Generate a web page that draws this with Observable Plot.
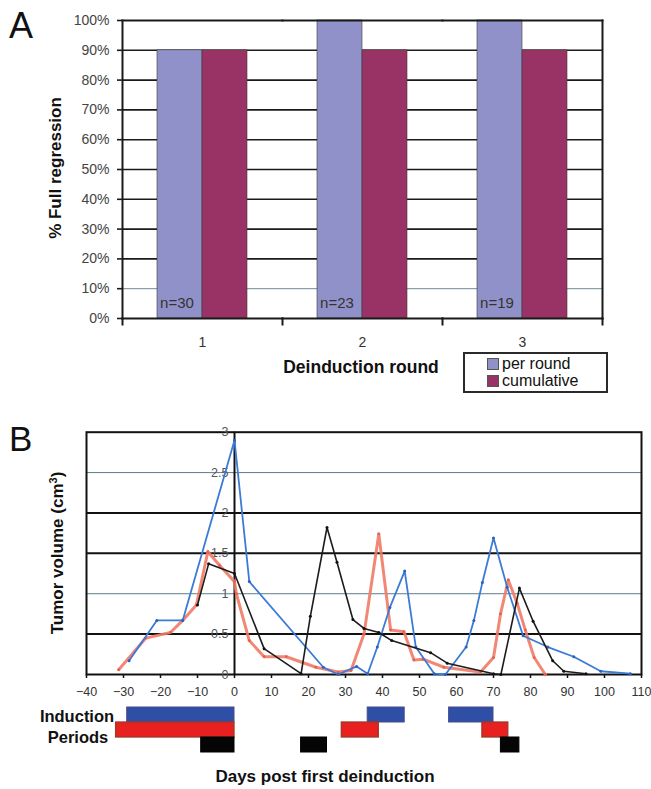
<!DOCTYPE html>
<html><head><meta charset="utf-8">
<script src="https://cdn.jsdelivr.net/npm/d3@7"></script>
<script src="https://cdn.jsdelivr.net/npm/@observablehq/plot@0.6"></script>
<style>
body{margin:0;background:#fff;font-family:"Liberation Sans",Arial,sans-serif;}
#root{position:relative;width:651px;height:789px;overflow:hidden;background:#fff;}
#root svg{position:absolute;left:0;}
.t{position:absolute;line-height:1;white-space:nowrap;color:#111;}
.b{font-weight:bold;}
.rot{transform:translate(-50%,-50%) rotate(-90deg);}
.ctr{transform:translate(-50%,-50%);}
</style></head><body><div id="root"></div>
<script>
// ---------- Panel A data ----------
const rounds = ["1","2","3"];
const seriesA = ["per round","cumulative"];
const perRound = [90,100,100];
const cumulative = [90,90,90];
const nLabels = ["n=30","n=23","n=19"];
const pctTicks = [0,10,20,30,40,50,60,70,80,90,100];
const pctGridDark = [20,30,40,50,60,70,80,90];
const pctGridLight = [10];

// ---------- Panel B data ----------
const blueDays = [-28.5,-21,-14,0,4,24,28,33,36,38.6,42,46,49,54,57,62.6,64.7,67,70,73.7,78,84.7,91.7,99,107];
const blueVol  = [0.17,0.67,0.67,2.9,1.15,0.09,0,0.1,0.01,0.34,0.83,1.28,0.34,0.01,0,0.34,0.67,1.14,1.69,1.08,0.48,0.34,0.22,0.04,0.01];
const blackDays = [-10,-7,0,8,18,20.5,25,27.7,32,35,39,42.5,53,57.5,70,72,77,80.7,86,89,95];
const blackVol  = [0.86,1.37,1.25,0.32,0.01,0.72,1.82,1.39,0.68,0.57,0.52,0.42,0.27,0.14,0.01,0,1.07,0.66,0.17,0.04,0.01];
const redDays = [-31.3,-24,-17.3,-14,-10.3,-7.2,-4,0,0.5,4,8,14,22,28,31.5,35,39,42.2,45.8,48.5,51,56.6,66.5,70,71.9,74,76.4,78.6,81,84];
const redVol  = [0.06,0.45,0.52,0.67,0.86,1.52,1.35,1.15,1.0,0.42,0.22,0.22,0.09,0.03,0.05,0.5,1.74,0.55,0.53,0.18,0.19,0.09,0.03,0.21,0.75,1.17,0.88,0.55,0.21,0];
const xTicksB = [-40,-30,-20,-10,0,10,20,30,40,50,60,70,80,90,100,110];
const yTicksB = [0,0.5,1,1.5,2,2.5,3];
const yGridDark = [0.5,1.5,2];
const yGridLight = [1,2.5];
const yAxisAt = 0;

// Induction periods (start, end days) per mouse
const periodRows = ["mouse A","mouse B","mouse C"];
const periodsA = [[-29,0],[36,46],[58,70]];
const periodsB = [[-32,0],[29,39],[67,74]];
const periodsC = [[-9,0],[18,25],[72,77]];

const font = '"Liberation Sans", Arial, sans-serif';
const root = document.getElementById("root");

// ---------- Panel A ----------
const barsA = rounds.flatMap((r,i)=>[
  {round:r, series:"per round", value:perRound[i]},
  {round:r, series:"cumulative", value:cumulative[i]}
]);
const nData = rounds.map((r,i)=>({round:r, series:"per round", label:nLabels[i]}));
const frameHA = 298;
const plotA = Plot.plot({
  width:651, height:400, marginLeft:121, marginRight:49, marginTop:20, marginBottom:82,
  fx:{domain:rounds, padding:0, label:null},
  x:{domain:seriesA, paddingInner:0, paddingOuter:0.745, axis:null},
  y:{domain:[0,100], label:null},
  color:{domain:seriesA, range:["#9191c9","#993366"]},
  style:{fontFamily:font, fontSize:"14px", color:"#222", background:"transparent", overflow:"visible"},
  marks:[
    Plot.ruleY(pctGridLight, {y:d=>d, stroke:"#6f8a94", strokeWidth:1}),
    Plot.ruleY(pctGridDark, {y:d=>d, stroke:"#1a1a1a", strokeWidth:1.6}),
    Plot.barY(barsA, {fx:"round", x:"series", y:"value", fill:"series", stroke:"#3a3a3a", strokeWidth:0.6}),
    Plot.text(nData, {fx:"round", x:"series", y:d=>0, text:"label", dy:-15, dx:-3, fontSize:15, fill:"#333"}),
    Plot.frame({anchor:"top", stroke:"#1a1a1a", strokeWidth:1.8}),
    Plot.frame({anchor:"bottom", stroke:"#1a1a1a", strokeWidth:2}),
    Plot.frame({anchor:"left", facetAnchor:"left", stroke:"#1a1a1a", strokeWidth:2}),
    Plot.frame({anchor:"right", facetAnchor:"right", stroke:"#1a1a1a", strokeWidth:2}),
    Plot.frame({anchor:"left", insetTop:frameHA, insetBottom:-6, stroke:"#1a1a1a", strokeWidth:2}),
    Plot.frame({anchor:"right", facetAnchor:"right", insetTop:frameHA, insetBottom:-6, stroke:"#1a1a1a", strokeWidth:2}),
    Plot.axisY(pctTicks, {tickSize:5, tickPadding:8, tickFormat:d=>d+"%", fontSize:14, fill:"#444", stroke:"#1a1a1a", strokeWidth:1.6}),
    Plot.axisFx({anchor:"bottom", tickSize:0, tickPadding:19, fontSize:14, fill:"#333", label:null})
  ]
});
plotA.style.top = "0px";
root.appendChild(plotA);

// ---------- Panel B ----------
const mk = (days, vols) => days.map((d,i)=>({day:d, vol:vols[i]}));
const red = mk(redDays, redVol), blue = mk(blueDays, blueVol), black = mk(blackDays, blackVol);
const plotB = Plot.plot({
  width:651, height:300, marginLeft:86, marginRight:10, marginTop:31.7, marginBottom:26,
  x:{domain:[-40,110], label:null},
  y:{domain:[0,3], axis:null},
  style:{fontFamily:font, fontSize:"12.5px", color:"#222", background:"transparent", overflow:"visible"},
  marks:[
    Plot.ruleY(yGridLight, {y:d=>d, stroke:"#5d7d8a", strokeWidth:1}),
    Plot.ruleY(yGridDark, {y:d=>d, stroke:"#111", strokeWidth:2}),
    Plot.ruleX([yAxisAt], {x:d=>d, stroke:"#111", strokeWidth:2}),
    Plot.frame({stroke:"#111", strokeWidth:2}),
    Plot.axisX(xTicksB, {tickSize:4, tickPadding:9, fontSize:12.5, fill:"#333", stroke:"#111", strokeWidth:1.5, label:null}),
    Plot.text(yTicksB, {x:d=>yAxisAt, y:d=>d, text:d=>String(d), textAnchor:"end", dx:-6, fontSize:12.5, fill:"#555"}),
    Plot.line(red, {x:"day", y:"vol", stroke:"#f07b66", strokeWidth:3, strokeOpacity:0.9}),
    Plot.dot(red, {x:"day", y:"vol", r:1.4, fill:"#e8604a"}),
    Plot.line(blue, {x:"day", y:"vol", stroke:"#3b7bd6", strokeWidth:1.8}),
    Plot.dot(blue, {x:"day", y:"vol", r:1.5, fill:"#2a62c0"}),
    Plot.line(black, {x:"day", y:"vol", stroke:"#1c1c1c", strokeWidth:1.6}),
    Plot.dot(black, {x:"day", y:"vol", r:1.5, fill:"#111"})
  ]
});
plotB.style.top = "400px";
root.appendChild(plotB);

// ---------- Induction periods ----------
const toRows = (row, list) => list.map(p=>({row, s:p[0], e:p[1]}));
const plotC = Plot.plot({
  width:651, height:60, marginLeft:86, marginRight:10, marginTop:6, marginBottom:6.7,
  x:{domain:[-40,110], axis:null},
  y:{domain:periodRows, padding:0, axis:null},
  style:{background:"transparent", overflow:"visible"},
  marks:[
    Plot.barX(toRows(periodRows[0], periodsA), {x1:"s", x2:"e", y:"row", fill:"#2f4fa6", stroke:"#4b4b8f", strokeWidth:1}),
    Plot.barX(toRows(periodRows[1], periodsB), {x1:"s", x2:"e", y:"row", fill:"#e8201f", stroke:"#9c3a2a", strokeWidth:1.3}),
    Plot.barX(toRows(periodRows[2], periodsC), {x1:"s", x2:"e", y:"row", fill:"#050505", stroke:"#000", strokeWidth:1})
  ]
});
plotC.style.top = "700px";
root.appendChild(plotC);

// ---------- Text annotations ----------
function addText(html, cls, style){
  const d = document.createElement("div");
  d.className = "t " + cls;
  d.innerHTML = html;
  Object.assign(d.style, style);
  root.appendChild(d);
  return d;
}
addText("A","",{left:"9px", top:"8px", fontSize:"36px"});
addText("B","",{left:"9px", top:"421px", fontSize:"35px"});
addText("% Full regression","b rot",{left:"55px", top:"168px", fontSize:"17px"});
addText("Deinduction round","b ctr",{left:"361px", top:"368px", fontSize:"17.5px"});
addText('Tumor volume (cm<sup style="font-size:11px;vertical-align:6px">3</sup>)',"b rot",{left:"57px", top:"553px", fontSize:"17px"});
addText("Days post first deinduction","b ctr",{left:"325px", top:"776px", fontSize:"17px"});
addText("Induction","b ctr",{left:"77px", top:"716px", fontSize:"16.5px"});
addText("Periods","b ctr",{left:"78px", top:"737px", fontSize:"16.5px"});

// legend
const lg = document.createElement("div");
Object.assign(lg.style,{position:"absolute", left:"463px", top:"352px", width:"141px", height:"37px",
  border:"2px solid #2a2a2a", background:"#fff"});
root.appendChild(lg);
const legendColors = ["#9191c9","#993366"];
seriesA.forEach((s,i)=>{
  const row = document.createElement("div");
  Object.assign(row.style,{position:"absolute", left:"22px", top:(2+i*17)+"px", height:"16px",
    display:"flex", alignItems:"center", fontSize:"16px", lineHeight:"16px", color:"#111", whiteSpace:"nowrap"});
  row.innerHTML = `<span style="display:inline-block;width:10px;height:10px;background:${legendColors[i]};border:0.5px solid #555;margin-right:3px"></span>${s}`;
  lg.appendChild(row);
});
</script>
</body></html>
